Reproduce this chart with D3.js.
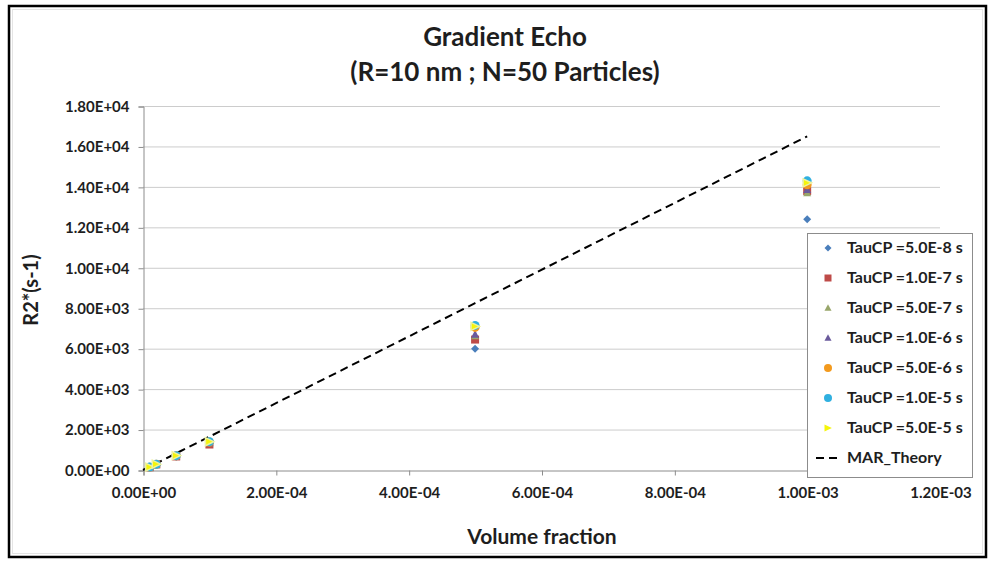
<!DOCTYPE html>
<html>
<head>
<meta charset="utf-8">
<script src="https://cdn.jsdelivr.net/npm/d3@7"></script>
<style>
  html, body { margin: 0; padding: 0; background: #fff; }
  svg { display: block; font-family: Lato, "Open Sans", sans-serif; }
</style>
</head>
<body>
<svg id="chart" width="992" height="563"></svg>
<script>
// Volume fractions at which the relaxation rate was simulated
const volumeFractions = [1e-5, 2e-5, 5e-5, 1e-4, 5e-4, 1e-3];

// R2* (s-1) for each correlation time TauCP
const tau5e8 = [130, 270, 660, 1290, 6000, 12400];
const tau1e7 = [135, 275, 670, 1260, 6450, 13800];
const tau5e7 = [138, 280, 690, 1330, 6620, 13700];
const tau1e6 = [140, 282, 700, 1350, 6700, 13850];
const tau5e6 = [142, 285, 705, 1380, 7050, 14100];
const tau1e5 = [143, 287, 710, 1400, 7150, 14300];
const tau5e5 = [143, 288, 712, 1400, 7100, 14200];

// MAR theory prediction (linear in volume fraction)
const theoryFractions = [0, 1e-5, 5e-5, 1e-4, 5e-4, 1e-3];
const theoryValues = [0, 165, 825, 1650, 8250, 16500];

const xTicks = [0, 2e-4, 4e-4, 6e-4, 8e-4, 1e-3, 1.2e-3];
const xTickLabels = ["0.00E+00", "2.00E-04", "4.00E-04", "6.00E-04", "8.00E-04", "1.00E-03", "1.20E-03"];
const yTicks = [0, 2000, 4000, 6000, 8000, 10000, 12000, 14000, 16000, 18000];
const yTickLabels = ["0.00E+00", "2.00E+03", "4.00E+03", "6.00E+03", "8.00E+03", "1.00E+04",
                     "1.20E+04", "1.40E+04", "1.60E+04", "1.80E+04"];

const seriesNames = ["TauCP =5.0E-8 s", "TauCP =1.0E-7 s", "TauCP =5.0E-7 s", "TauCP =1.0E-6 s",
                     "TauCP =5.0E-6 s", "TauCP =1.0E-5 s", "TauCP =5.0E-5 s"];
const seriesColors = ["#4a7ebb", "#be4b48", "#98a66a", "#6a5a9c", "#f39a1e", "#30b0e0", "#f5f50a"];
const seriesShapes = ["diamond", "square", "triangle", "triangle", "circle", "circle", "triangleRight"];
const theoryName = "MAR_Theory";

const seriesValues = [tau5e8, tau1e7, tau5e7, tau1e6, tau5e6, tau1e5, tau5e5];
const series = seriesNames.map((name, i) => ({
  name, color: seriesColors[i], shape: seriesShapes[i],
  points: volumeFractions.map((f, j) => ({ x: f, y: seriesValues[i][j] }))
}));

const textColor = "#1e1e1e";
const svg = d3.select("#chart");

// outer frame
svg.append("rect").attr("x", 9).attr("y", 6).attr("width", 977).attr("height", 551)
  .attr("fill", "#fff").attr("stroke", "#000").attr("stroke-width", 2.5);
svg.append("rect").attr("x", 12.5).attr("y", 9.5).attr("width", 970).attr("height", 544)
  .attr("fill", "none").attr("stroke", "#e4e4e4").attr("stroke-width", 1);

const plot = { left: 143, right: 940, top: 106, bottom: 470 };
const x = d3.scaleLinear().domain([0, 1.2e-3]).range([plot.left, plot.right]);
const y = d3.scaleLinear().domain([0, 18000]).range([plot.bottom, plot.top]);

// horizontal gridlines
svg.append("g").selectAll("line").data(yTicks.slice(1)).join("line")
  .attr("x1", plot.left).attr("x2", plot.right)
  .attr("y1", d => y(d) + 0.5).attr("y2", d => y(d) + 0.5)
  .attr("stroke", "#cccccc").attr("stroke-width", 1);

function styleAxis(g) {
  g.attr("font-family", null).attr("font-size", null);
  g.select(".domain").attr("stroke", "#8c8c8c");
  g.selectAll(".tick line").attr("stroke", "#8c8c8c");
  g.selectAll("text").attr("font-size", 15).attr("font-weight", "bold").attr("fill", textColor);
}

// y axis
const yAxis = d3.axisLeft(y).tickValues(yTicks).tickSize(5).tickPadding(9)
  .tickFormat((d, i) => yTickLabels[i]);
svg.append("g").attr("transform", `translate(${plot.left + 0.5},0.5)`).call(yAxis).call(styleAxis);

// x axis
const xAxis = d3.axisBottom(x).tickValues(xTicks).tickSize(5).tickPadding(12)
  .tickFormat((d, i) => xTickLabels[i]);
svg.append("g").attr("transform", `translate(0.5,${plot.bottom + 0.5})`).call(xAxis).call(styleAxis);

// theory line
const line = d3.line().x(d => x(d[0])).y(d => y(d[1]));
svg.append("path")
  .datum(theoryFractions.map((f, i) => [f, theoryValues[i]]))
  .attr("d", line).attr("fill", "none").attr("stroke", "#000")
  .attr("stroke-width", 2).attr("stroke-dasharray", "8,5");

// marker symbols
function markerPath(shape, s) {
  switch (shape) {
    case "diamond": return `M0,${-s}L${s},0L0,${s}L${-s},0Z`;
    case "square": return `M${-s},${-s}H${s}V${s}H${-s}Z`;
    case "triangle": return `M0,${-s * 1.1}L${s},${s * 0.8}L${-s},${s * 0.8}Z`;
    case "triangleRight": return `M${-s},${-s}L${s * 1.1},0L${-s},${s}Z`;
    default: return d3.symbol(d3.symbolCircle, Math.PI * s * s)();
  }
}

// data points, one group per series
series.forEach(s => {
  svg.append("g").selectAll("path").data(s.points).join("path")
    .attr("transform", d => `translate(${x(d.x)},${y(d.y)})`)
    .attr("d", markerPath(s.shape, s.shape === "circle" ? 4.5 : 4))
    .attr("fill", s.color)
    .attr("stroke", s.shape === "triangleRight" ? "#eef2a0" : "none")
    .attr("stroke-width", 1.5);
});

// legend
const lg = svg.append("g").attr("transform", "translate(807,233)");
lg.append("rect").attr("x", 0.5).attr("y", 0.5).attr("width", 165).attr("height", 244)
  .attr("fill", "#fff").attr("stroke", "#8c8c8c");
series.forEach((s, i) => {
  const cy = 15 + i * 30;
  lg.append("path").attr("transform", `translate(21,${cy})`)
    .attr("d", markerPath(s.shape, s.shape === "circle" ? 4 : 3.5)).attr("fill", s.color);
  lg.append("text").attr("x", 40).attr("y", cy + 5).text(s.name)
    .attr("font-size", 16).attr("font-weight", "bold").attr("fill", textColor);
});
const ty = 15 + series.length * 30;
lg.append("line").attr("x1", 9).attr("x2", 34).attr("y1", ty).attr("y2", ty)
  .attr("stroke", "#000").attr("stroke-width", 2).attr("stroke-dasharray", "8,5");
lg.append("text").attr("x", 40).attr("y", ty + 5).text(theoryName)
  .attr("font-size", 16).attr("font-weight", "bold").attr("fill", textColor);

// titles
svg.append("text").attr("x", 505).attr("y", 46).attr("text-anchor", "middle")
  .attr("font-size", 26).attr("font-weight", "bold").attr("fill", textColor).text("Gradient Echo");
svg.append("text").attr("x", 505).attr("y", 81).attr("text-anchor", "middle")
  .attr("font-size", 26).attr("font-weight", "bold").attr("fill", textColor).text("(R=10 nm ; N=50 Particles)");
svg.append("text").attr("x", 542).attr("y", 544).attr("text-anchor", "middle")
  .attr("font-size", 21).attr("font-weight", "bold").attr("fill", textColor).text("Volume fraction");
svg.append("text").attr("transform", "translate(38,290) rotate(-90)").attr("text-anchor", "middle")
  .attr("font-size", 20).attr("font-weight", "bold").attr("fill", textColor).text("R2*(s-1)");
</script>
</body>
</html>
